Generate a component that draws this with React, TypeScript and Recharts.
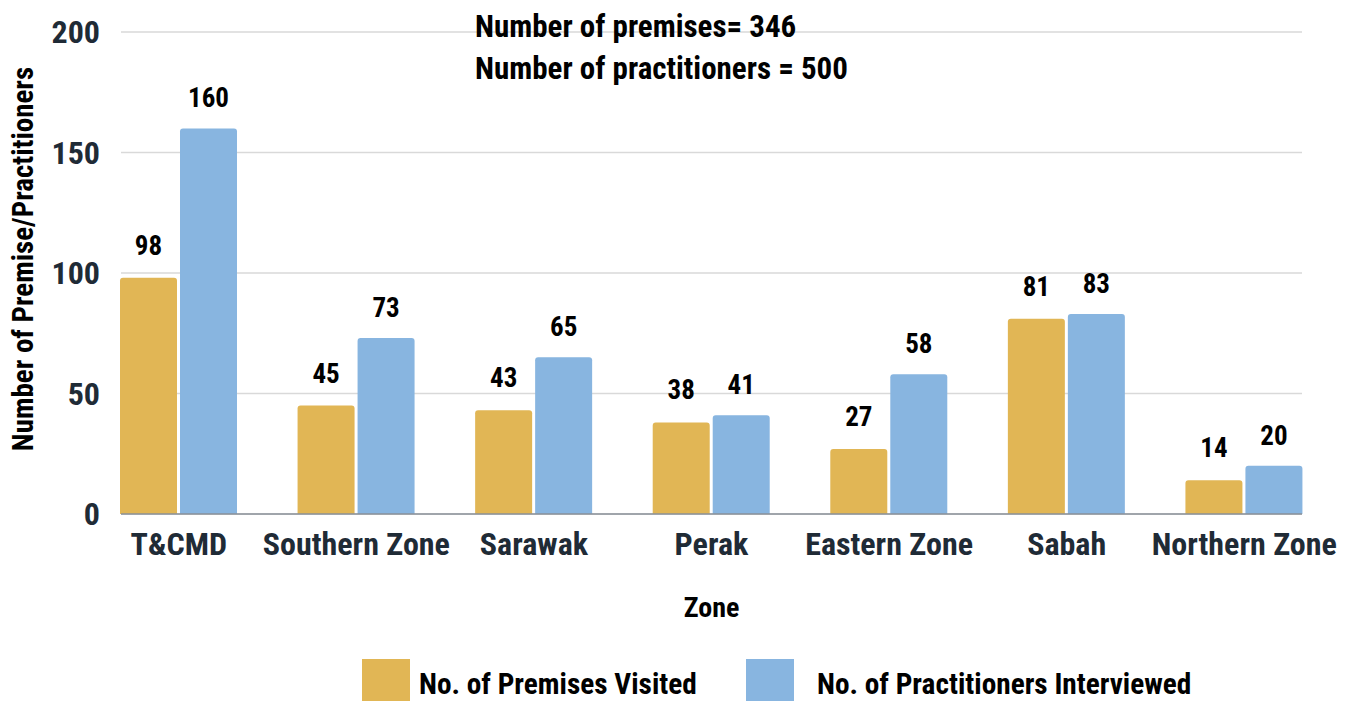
import React from 'react';
import { BarChart, Bar, XAxis, YAxis, CartesianGrid, LabelList } from 'recharts';

// zones along the x axis
const zones = ['T&CMD', 'Southern Zone', 'Sarawak', 'Perak', 'Eastern Zone', 'Sabah', 'Northern Zone'];
const premisesVisited = [98, 45, 43, 38, 27, 81, 14];
const practitionersInterviewed = [160, 73, 65, 41, 58, 83, 20];
const yTicks = [0, 50, 100, 150, 200];
const seriesNames = ['No. of Premises Visited', 'No. of Practitioners Interviewed'];
const seriesColors = ['#E1B655', '#88B5E0'];
const notes = ['Number of premises= 346', 'Number of practitioners = 500'];

const FONT = "'Roboto Condensed', 'Liberation Sans Narrow', 'DejaVu Sans Condensed', Roboto, sans-serif";

const App: React.FC = () => {
  const data = zones.map((zone, i) => ({
    zone,
    premises: premisesVisited[i],
    practitioners: practitionersInterviewed[i],
  }));

  const tickStyle = { fontSize: 32, fontWeight: 700, fill: '#1f2b36' };
  const valueLabel = { fontSize: 27, fontWeight: 700, fill: '#000' };

  return (
    <div style={{ position: 'absolute', left: 0, top: 0, width: 1354, height: 701, overflow: 'hidden', background: '#fff', fontFamily: FONT }}>
      <BarChart
        width={1354}
        height={701}
        data={data}
        margin={{ top: 32, right: 52, bottom: 87, left: 0 }}
        barCategoryGap={30}
        barGap={3}
      >
        <CartesianGrid vertical={false} stroke="#d9d9d9" strokeWidth={1.5} />
        <XAxis
          dataKey="zone"
          height={100}
          padding={{ left: -31, right: -31 }}
          axisLine={{ stroke: '#8a9099', strokeWidth: 1.5 }}
          tickLine={false}
          tickMargin={12}
          interval={0}
          tick={tickStyle}
          label={{ value: 'Zone', position: 'insideBottom', offset: -3, fontSize: 28, fontWeight: 700, fill: '#000' }}
        />
        <YAxis
          width={121}
          domain={[0, 200]}
          ticks={yTicks}
          axisLine={false}
          tickLine={false}
          tickMargin={15}
          tick={tickStyle}
          label={{
            value: 'Number of Premise/Practitioners',
            angle: -90,
            position: 'center',
            dx: -38,
            dy: -14,
            fontSize: 29,
            fontWeight: 700,
            fill: '#000',
          }}
        />
        <Bar dataKey="premises" name={seriesNames[0]} fill={seriesColors[0]} radius={[3, 3, 0, 0]} isAnimationActive={false}>
          <LabelList dataKey="premises" position="top" offset={23} style={valueLabel} />
        </Bar>
        <Bar dataKey="practitioners" name={seriesNames[1]} fill={seriesColors[1]} radius={[3, 3, 0, 0]} isAnimationActive={false}>
          <LabelList dataKey="practitioners" position="top" offset={21} style={valueLabel} />
        </Bar>
      </BarChart>

      {/* notes and legend drawn over the chart */}
      <svg width={1354} height={701} style={{ position: 'absolute', left: 0, top: 0, pointerEvents: 'none' }}>
        {notes.map((n, i) => (
          <text key={n} x={475} y={37 + i * 42} fontSize={31} fontWeight={700} fill="#000">
            {n}
          </text>
        ))}
        {seriesNames.map((name, i) => {
          const x0 = i === 0 ? 362 : 746;
          return (
            <g key={name}>
              <rect x={x0} y={659} width={48} height={48} fill={seriesColors[i]} />
              <text x={x0 + (i === 0 ? 57 : 71)} y={694} fontSize={29.3} fontWeight={700} fill="#000">
                {name}
              </text>
            </g>
          );
        })}
      </svg>
    </div>
  );
};

export default App;
